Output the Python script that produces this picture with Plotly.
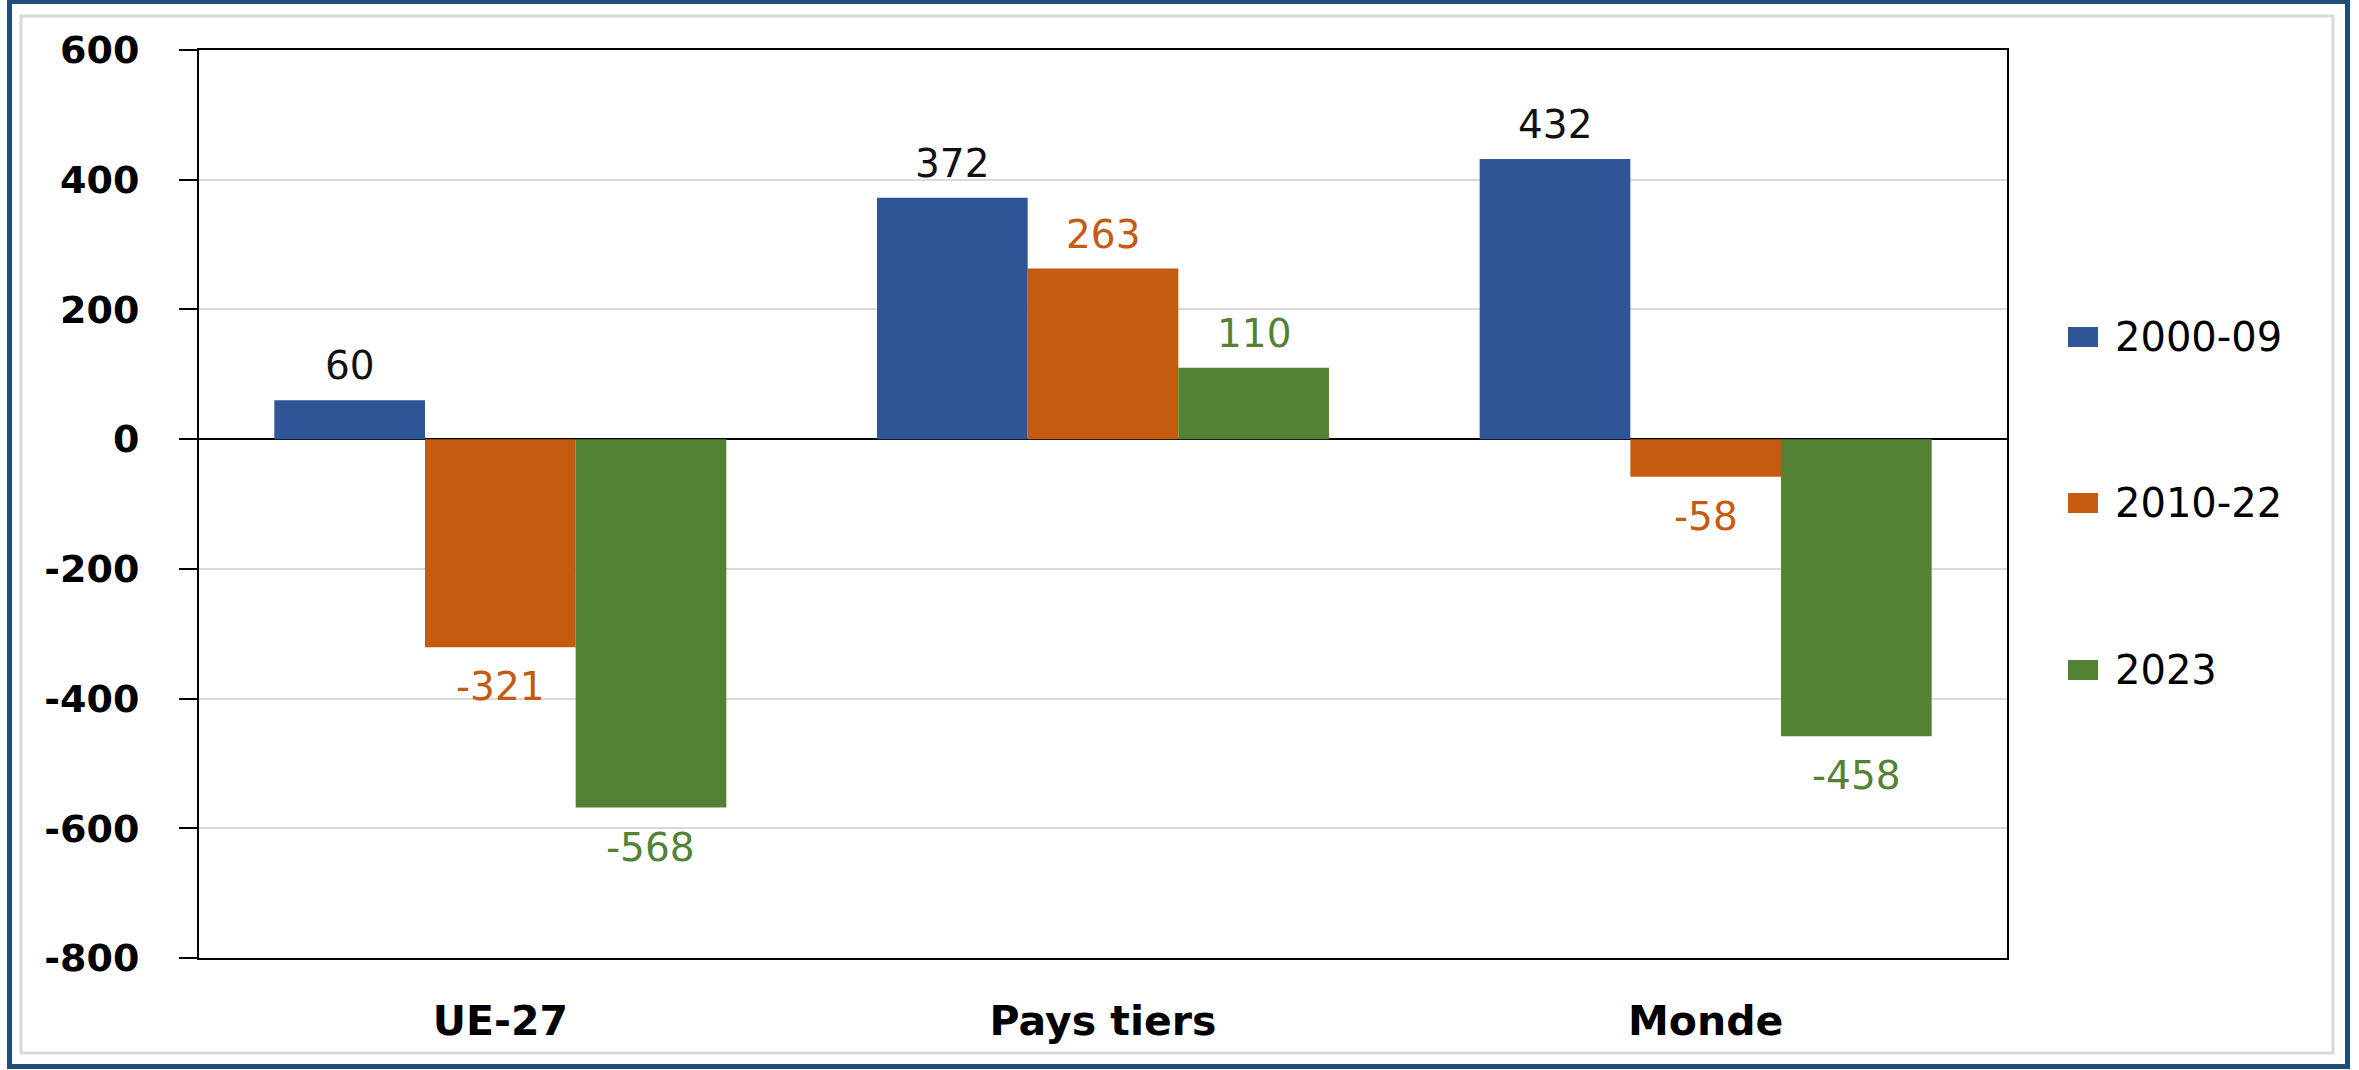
import plotly.graph_objects as go

categories = ["UE-27", "Pays tiers", "Monde"]
series_names = ["2000-09", "2010-22", "2023"]
values_2000_09 = [60, 372, 432]
values_2010_22 = [-321, 263, -58]
values_2023 = [-568, 110, -458]
series_values = [values_2000_09, values_2010_22, values_2023]
bar_colors = ["#2F5597", "#C55A11", "#548235"]
label_colors = ["#111111", "#C55A11", "#548235"]
y_ticks = [-800, -600, -400, -200, 0, 200, 400, 600]

W_FIG, H_FIG = 2359, 1070
L, R, T, B = 199, 352, 50, 112
PW = W_FIG - L - R
PH = H_FIG - T - B
BARGAP = 0.25

def px_x(p):
    return (p - L) / PW

def px_y(p):
    return 1 - (p - T) / PH

fig = go.Figure()
for name, vals, col in zip(series_names, series_values, bar_colors):
    fig.add_trace(go.Bar(x=categories, y=vals, name=name, marker=dict(color=col, line=dict(width=0)),
                         showlegend=False))

# data labels
bar_px = PW / len(categories) * (1 - BARGAP) / len(series_names)
annotations = []
for i, (vals, lc) in enumerate(zip(series_values, label_colors)):
    for cat, v in zip(categories, vals):
        annotations.append(dict(
            x=cat, y=v, xref="x", yref="y", text=str(v), showarrow=False,
            xshift=(i - 1) * bar_px,
            yanchor="bottom" if v >= 0 else "top",
            yshift=10 if v >= 0 else -15,
            font=dict(family="DejaVu Sans", size=39, color=lc),
        ))

# legend (manual)
shapes = []
legend_y = [337, 503, 670]
for name, col, ly in zip(series_names, bar_colors, legend_y):
    shapes.append(dict(type="rect", xref="paper", yref="paper",
                       x0=px_x(2068), x1=px_x(2098), y0=px_y(ly + 10), y1=px_y(ly - 10),
                       fillcolor=col, line=dict(width=0)))
    annotations.append(dict(x=px_x(2113), y=px_y(ly), xref="paper", yref="paper", text=name,
                            showarrow=False, xanchor="left", yanchor="middle",
                            font=dict(family="DejaVu Sans", size=40, color="#000000")))

# frames
shapes.append(dict(type="rect", xref="paper", yref="paper", layer="below",
                   x0=px_x(21), x1=px_x(2333), y0=px_y(1053), y1=px_y(16),
                   line=dict(color="#d9d9d9", width=3), fillcolor="rgba(0,0,0,0)"))
shapes.append(dict(type="rect", xref="paper", yref="paper",
                   x0=px_x(9.5), x1=px_x(2347.5), y0=px_y(1066.5), y1=px_y(1.5),
                   line=dict(color="#1F4E79", width=5), fillcolor="rgba(0,0,0,0)"))

fig.update_layout(
    width=W_FIG, height=H_FIG,
    margin=dict(l=L, r=R, t=T, b=B, pad=0),
    paper_bgcolor="white", plot_bgcolor="white",
    barmode="group", bargap=BARGAP, bargroupgap=0,
    annotations=annotations, shapes=shapes,
    font=dict(family="DejaVu Sans", color="#000000"),
)
fig.update_xaxes(
    showline=True, linecolor="#000000", linewidth=2, mirror=True,
    ticks="", showgrid=False,
    tickfont=dict(family="DejaVu Sans", size=41, color="#000000", weight="bold"),
    ticklabelstandoff=26,
)
fig.update_yaxes(
    range=[-800, 600], tickvals=y_ticks, ticktext=[str(t) for t in y_ticks],
    showline=True, linecolor="#000000", linewidth=2, mirror=True,
    ticks="outside", ticklen=18, tickwidth=2, tickcolor="#000000",
    showgrid=True, gridcolor="#d9d9d9", gridwidth=2,
    zeroline=True, zerolinecolor="#000000", zerolinewidth=2,
    tickfont=dict(family="DejaVu Sans", size=38, color="#000000", weight="bold"),
    ticklabelstandoff=32,
)

fig.write_html("out.html", config={"displayModeBar": False},
               post_script="document.body.style.margin='0';document.body.style.overflow='hidden';")
